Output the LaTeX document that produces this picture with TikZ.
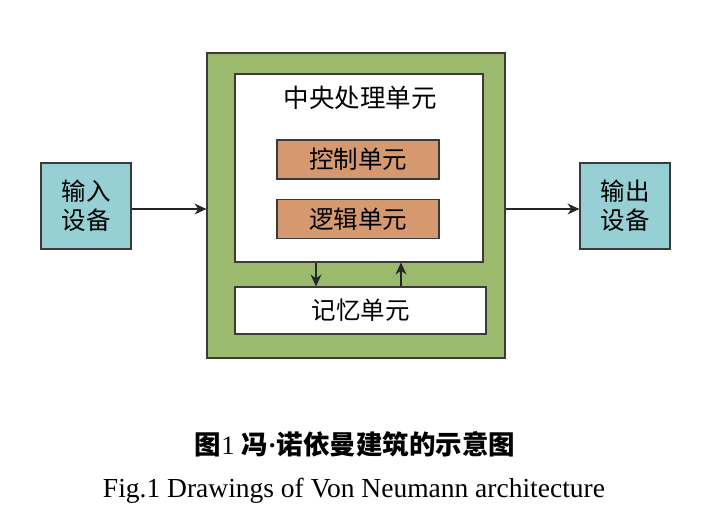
\documentclass[tikz,border=0pt]{standalone}
\usepackage{fontspec}
\setmainfont{Liberation Serif}
\newfontfamily\cjk{Noto Sans CJK SC}
\usetikzlibrary{arrows.meta}
\definecolor{outergreen}{HTML}{9BBA6E}
\definecolor{devteal}{HTML}{96D0D5}
\definecolor{unitorange}{HTML}{D6986E}
\definecolor{edgegray}{HTML}{3A3A3A}
\tikzset{
  boxbase/.style={draw=edgegray, line width=1.2pt, inner sep=0pt, align=center, font=\cjk\fontsize{24.5}{29}\selectfont},
  devbox/.style={boxbase, fill=devteal, minimum width=90pt, minimum height=86pt},
  unitbox/.style={boxbase, fill=unitorange, minimum width=162pt, minimum height=39pt},
  whitebox/.style={boxbase, fill=white},
  arr/.style={-{Stealth[length=12pt,width=11pt,inset=4pt]}, line width=1.3pt, draw=black!85}
}
\begin{document}
\begin{tikzpicture}[x=1pt,y=-1pt]
\useasboundingbox (0,0) rectangle (724,526);
\node[boxbase, fill=outergreen, minimum width=298pt, minimum height=305pt] (outer) at (356,205.5) {};
\node[whitebox, minimum width=248pt, minimum height=188pt] (cpu) at (359,168) {};
\node[font=\cjk\fontsize{25.5}{29}\selectfont] (cputitle) at (360,98) {中央处理单元};
\node[unitbox] (ctrl) at (358,159.5) {控制单元};
\node[unitbox] (alu) at (358,219) {逻辑单元};
\node[whitebox, minimum width=251pt, minimum height=47pt] (mem) at (360.5,310.5) {记忆单元};
\node[devbox] (in) at (86,206) {输入\\设备};
\node[devbox] (out) at (625,206) {输出\\设备};
\draw[arr] ([yshift=-3]in.east) -- ([yshift=-3]in.east -| outer.west);
\draw[arr] ([yshift=-3]outer.east |- out.west) -- ([yshift=-3]out.west);
\draw[arr] ([xshift=-43]cpu.south) -- ([xshift=-43]cpu.south |- mem.north);
\draw[arr] ([xshift=42]cpu.south |- mem.north) -- ([xshift=42]cpu.south);
\node[font=\cjk\bfseries\fontsize{26.5}{30}\selectfont] (cap1) at (355,444) {图{\rmfamily\mdseries 1\ }冯{\rmfamily\bfseries ·}诺依曼建筑的示意图};
\node[font=\fontsize{27.5}{32}\selectfont] (cap2) at (354,491) {Fig.1 Drawings of Von Neumann architecture};
\end{tikzpicture}
\end{document}
